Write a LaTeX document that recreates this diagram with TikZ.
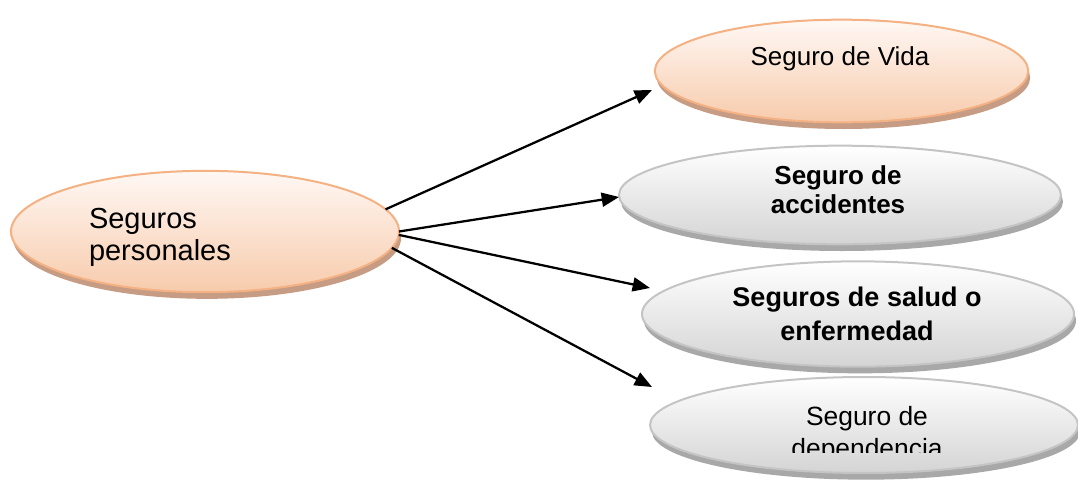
\documentclass[tikz,border=0pt]{standalone}
\usepackage{fontspec}
\setmainfont{Liberation Sans}
\usetikzlibrary{shapes.geometric,shadows,arrows.meta}

\definecolor{orborder}{HTML}{F4B183}
\definecolor{ortop}{HTML}{FFF8F4}
\definecolor{orbot}{HTML}{F7CBAC}
\definecolor{orshadow}{HTML}{C69C84}
\definecolor{grborder}{HTML}{C4C4C4}
\definecolor{grtop}{HTML}{FFFFFF}
\definecolor{grbot}{HTML}{D4D4D4}
\definecolor{grshadow}{HTML}{A8A8A8}

\begin{document}
\begin{tikzpicture}[x=0.75pt,y=-0.75pt,
  bubble/.style={ellipse, draw, line width=1.5pt, inner sep=0pt, outer sep=0pt},
  warm/.style={bubble, draw=orborder, top color=ortop, bottom color=orbot,
    general shadow={shadow xshift=1.5pt, shadow yshift=-5pt, fill=orshadow}},
  cool/.style={bubble, draw=grborder, top color=grtop, bottom color=grbot,
    general shadow={shadow xshift=1.5pt, shadow yshift=-5pt, fill=grshadow}},
  lbl/.style={inner sep=0pt, outer sep=0pt, text=black},
  link/.style={line width=1.7pt, -{Triangle[length=13pt,width=10.5pt]}}]
\useasboundingbox (0,0) rectangle (1078,479);

% ellipses
\node[warm, minimum width=291pt, minimum height=91pt] (sp) at (205,231.5) {};
\node[warm, minimum width=280pt, minimum height=77pt] (vida) at (841.5,71) {};
\node[cool, minimum width=331.5pt, minimum height=74pt] (acc) at (840,195) {};
\node[cool, minimum width=324pt, minimum height=79pt] (salud) at (858,314) {};
\node[cool, minimum width=321pt, minimum height=72pt] (dep) at (864,425) {};

% labels (base anchor = baseline of the last line)
\node[lbl, align=left, anchor=base west, font=\fontsize{21.75}{24}\selectfont]
  (spt) at (89,260) {Seguros\\personales};
\node[lbl, anchor=base, font=\fontsize{19.5}{22}\selectfont]
  (vidat) at (840,65) {Seguro de Vida};
\node[lbl, align=center, anchor=base, font=\fontsize{19.5}{21.75}\bfseries\selectfont]
  (acct) at (838,213) {Seguro de\\accidentes};
\node[lbl, align=center, anchor=base, font=\fontsize{20.25}{25.5}\bfseries\selectfont]
  (saludt) at (857,340) {Seguros de salud o\\enfermedad};
\begin{scope}
  \clip (640,380) rectangle (1078,452);
  \node[lbl, align=center, anchor=base, font=\fontsize{19.8}{24}\selectfont]
    (dept) at (867,457) {Seguro de\\dependencia};
\end{scope}

% arrow tips
\coordinate (t1) at (652,90);
\coordinate (t2) at (619,197);
\coordinate (t3) at (650,288);
\coordinate (t4) at (652,387);

\draw[link] (sp.7.9) -- (t1);
\draw[link] (sp.0.4) -- (t2);
\draw[link] (sp.-1.8) -- (t3);
\draw[link] (sp.-5.2) -- (t4);
\end{tikzpicture}
\end{document}
